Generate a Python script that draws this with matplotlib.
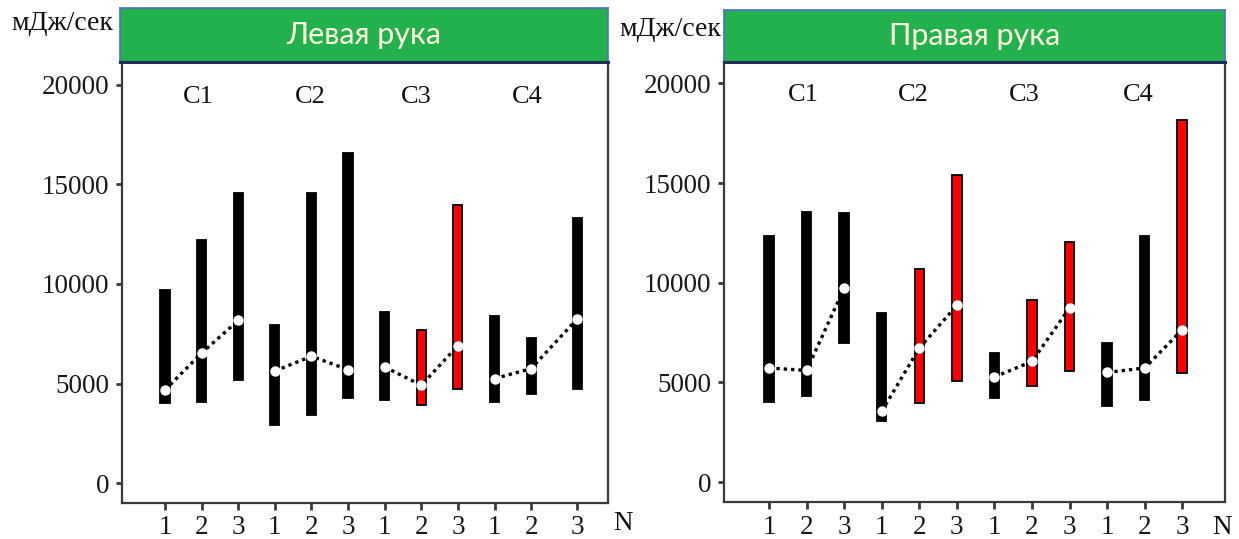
import matplotlib
matplotlib.use("Agg")
import matplotlib.pyplot as plt
from matplotlib.ticker import FixedLocator

# ---------------- data ----------------
tick_labels = ["1", "2", "3"] * 4
group_labels = ["C1", "C2", "C3", "C4"]
panel_titles = ["Левая рука", "Правая рука"]
y_ticks = [0, 5000, 10000, 15000, 20000]

left_pos = [1, 2, 3, 4, 5, 6, 7, 8, 9, 10, 11, 12.26]
left_low = [4000, 4050, 5170, 2920, 3420, 4250, 4170, 3920, 4720, 4080, 4450, 4720]
left_high = [9720, 12220, 14550, 7920, 14550, 16580, 8580, 7700, 13950, 8380, 7300, 13300]
left_mean = [4680, 6530, 8170, 5630, 6370, 5700, 5830, 4920, 6900, 5250, 5750, 8250]
left_red = [False, False, False, False, False, False, False, True, True, False, False, False]

right_pos = [1, 2, 3, 4, 5, 6, 7, 8, 9, 10, 11, 12]
right_low = [4000, 4300, 7000, 3080, 3960, 5050, 4210, 4800, 5590, 3800, 4130, 5470]
right_high = [12320, 13550, 13490, 8480, 10690, 15420, 6470, 9110, 12020, 6970, 12320, 18180]
right_mean = [5720, 5600, 9730, 3550, 6720, 8860, 5270, 6050, 8730, 5500, 5720, 7640]
right_red = [False, False, False, False, True, True, False, True, True, False, False, True]

# ---------------- style ----------------
W, H = 1239, 539
fig = plt.figure(figsize=(W / 100, H / 100), dpi=100)
serif = ["Liberation Serif", "DejaVu Serif"]
spine_c = "#3a3a3a"
green = "#22B14C"


def fx(px):
    return px / W


def fy(py):
    return 1 - py / H


def panel(rect_px, head_px, pos, low, high, mean, red, title, xlim, ylim, clab_x, clab_y):
    x0, y0, x1, y1 = rect_px
    ax = fig.add_axes([fx(x0), fy(y1), fx(x1 - x0), (y1 - y0) / H])
    colors = ["#FF0000" if r else "black" for r in red]
    heights = [h - l for h, l in zip(high, low)]
    ax.bar(pos, heights, bottom=low, width=0.25, color=colors,
           edgecolor="black", linewidth=1.3, zorder=2)
    for g in range(4):
        sl = slice(3 * g, 3 * g + 3)
        ax.plot(pos[sl], mean[sl], linestyle=(0, (1, 1.2)), color="black",
                linewidth=2.4, zorder=3)
        ax.plot(pos[sl], mean[sl], linestyle="none", marker="o",
                markersize=6.5, markerfacecolor="white", markeredgecolor="white",
                zorder=4)
    for gx, lab in zip(clab_x, group_labels):
        ax.text(gx, clab_y, lab, ha="center", va="center",
                fontsize=19, family=serif, color="#111111")
    ax.set_xlim(*xlim)
    ax.set_ylim(*ylim)
    ax.xaxis.set_major_locator(FixedLocator(pos))
    ax.set_xticklabels(tick_labels)
    ax.yaxis.set_major_locator(FixedLocator(y_ticks))
    ax.set_yticklabels([str(v) for v in y_ticks])
    for lab in ax.get_xticklabels() + ax.get_yticklabels():
        lab.set_family(serif)
        lab.set_fontsize(19.5)
        lab.set_color("#1a1a1a")
    ax.tick_params(axis="x", length=5, width=2, color=spine_c, pad=4)
    ax.tick_params(axis="y", length=4, width=2, color=spine_c, pad=5)
    for s in ax.spines.values():
        s.set_color(spine_c)
        s.set_linewidth(1.6)

    hx0, hy0, hx1, hy1 = head_px
    hax = fig.add_axes([fx(hx0), fy(hy1), fx(hx1 - hx0), (hy1 - hy0) / H])
    hax.set_facecolor(green)
    hax.set_xticks([])
    hax.set_yticks([])
    for s in hax.spines.values():
        s.set_color("#4F6FC0")
        s.set_linewidth(1.2)
    hax.spines["bottom"].set_color("#1F2F5A")
    hax.spines["bottom"].set_linewidth(2.2)
    hax.text(0.5, 0.5, title, transform=hax.transAxes, ha="center",
             va="center", fontsize=22, family=["Lato", "DejaVu Sans"],
             color="#FFFFE0")
    return ax


panel((122, 62, 608, 503), (120, 8, 608, 62), left_pos, left_low, left_high,
      left_mean, left_red, panel_titles[0], (-0.175, 13.1), (-1000, 21150),
      [1.92, 4.97, 7.86, 10.9], 19400)
panel((724, 62, 1225, 502), (724, 10, 1225, 62), right_pos, right_low, right_high,
      right_mean, right_red, panel_titles[1], (-0.2, 13.14), (-1000, 21070),
      [1.9, 4.84, 7.8, 10.84], 19420)

fig.text(fx(62), fy(24), "мДж/сек", ha="center", va="center",
         fontsize=20, family=serif, color="#111111")
fig.text(fx(670), fy(29), "мДж/сек", ha="center", va="center",
         fontsize=20, family=serif, color="#111111")
fig.text(fx(623), fy(523), "N", ha="center", va="center",
         fontsize=19.5, family=serif, color="#111111")
fig.text(fx(1222), fy(528), "N", ha="center", va="center",
         fontsize=19.5, family=serif, color="#111111")

fig.savefig("out.png", dpi=100)
